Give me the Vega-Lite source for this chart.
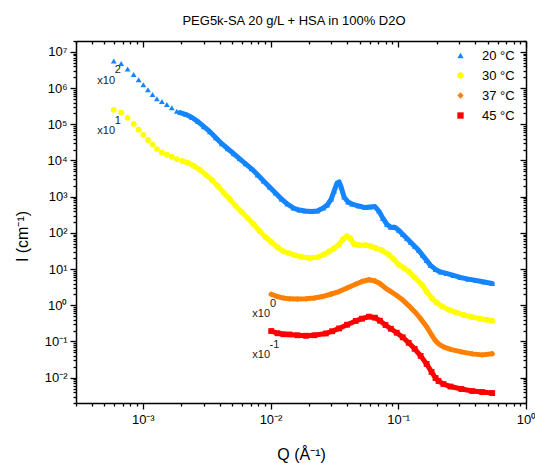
{
  "$schema": "https://vega.github.io/schema/vega-lite/v6.json",
  "width": 450,
  "height": 362,
  "autosize": {"type": "none"},
  "padding": {"left": 76, "top": 41, "right": 9, "bottom": 60},
  "title": {"text": "PEG5k-SA 20 g/L + HSA in 100% D2O", "fontSize": 13, "fontWeight": "normal", "font": "Liberation Sans", "color": "#000", "offset": -3, "baseline": "alphabetic", "dx": -7},
  "config": {
    "font": "Liberation Sans",
    "view": {"stroke": null},
    "axis": {"grid": false, "domainColor": "#000", "domainWidth": 1.5, "tickColor": "#000", "tickWidth": 1.3, "labelColor": "#000", "titleColor": "#000", "labelFont": "Liberation Sans", "titleFont": "Liberation Sans", "labelFontSize": 13, "titleFontSize": 16, "titleFontWeight": "normal", "labelOverlap": false, "labelFlush": false},
    "legend": {"labelFontSize": 13, "labelColor": "#000", "labelFont": "Liberation Sans", "symbolSize": 40, "symbolStrokeWidth": 0, "labelOffset": 15, "rowPadding": 6, "padding": 0}
  },
  "datasets": {
    "d": [
      {"T":"20 °C","Q":5.93e-4,"I":5.62e6},{"T":"20 °C","Q":6.77e-4,"I":4.76e6},{"T":"20 °C","Q":7.61e-4,"I":3.37e6},{"T":"20 °C","Q":8.48e-4,"I":2.36e6},{"T":"20 °C","Q":9.28e-4,"I":1.71e6},{"T":"20 °C","Q":1.01e-3,"I":1.243e6},{"T":"20 °C","Q":1.098e-3,"I":9.03e5},{"T":"20 °C","Q":1.192e-3,"I":6.68e5},{"T":"20 °C","Q":1.29e-3,"I":5.08e5},{"T":"20 °C","Q":1.411e-3,"I":4.27e5},{"T":"20 °C","Q":1.543e-3,"I":3.53e5},{"T":"20 °C","Q":1.687e-3,"I":2.86e5},{"T":"20 °C","Q":1.845e-3,"I":2.3e5},{"T":"20 °C","Q":1.958e-3,"I":2.11e5},{"T":"20 °C","Q":2.181e-3,"I":1.86e5},{"T":"20 °C","Q":2.428e-3,"I":1.54e5},{"T":"20 °C","Q":2.703e-3,"I":1.19e5},{"T":"20 °C","Q":3.01e-3,"I":8.63e4},{"T":"20 °C","Q":3.352e-3,"I":6.27e4},{"T":"20 °C","Q":3.733e-3,"I":4.27e4},{"T":"20 °C","Q":4.157e-3,"I":2.91e4},{"T":"20 °C","Q":4.628e-3,"I":2.11e4},{"T":"20 °C","Q":5.154e-3,"I":1.54e4},{"T":"20 °C","Q":5.738e-3,"I":1.115e4},{"T":"20 °C","Q":6.39e-3,"I":8100},{"T":"20 °C","Q":7.115e-3,"I":5880},{"T":"20 °C","Q":7.922e-3,"I":4010},{"T":"20 °C","Q":8.822e-3,"I":2730},{"T":"20 °C","Q":9.822e-3,"I":1860},{"T":"20 °C","Q":1.094e-2,"I":1267},{"T":"20 °C","Q":1.218e-2,"I":863},{"T":"20 °C","Q":1.356e-2,"I":627},{"T":"20 °C","Q":1.51e-2,"I":486},{"T":"20 °C","Q":1.682e-2,"I":427},{"T":"20 °C","Q":1.872e-2,"I":401},{"T":"20 °C","Q":2.085e-2,"I":388},{"T":"20 °C","Q":2.322e-2,"I":401},{"T":"20 °C","Q":2.585e-2,"I":486},{"T":"20 °C","Q":2.777e-2,"I":588},{"T":"20 °C","Q":2.984e-2,"I":863},{"T":"20 °C","Q":3.149e-2,"I":1440},{"T":"20 °C","Q":3.322e-2,"I":2403},{"T":"20 °C","Q":3.443e-2,"I":2560},{"T":"20 °C","Q":3.569e-2,"I":1860},{"T":"20 °C","Q":3.766e-2,"I":981},{"T":"20 °C","Q":4.046e-2,"I":712},{"T":"20 °C","Q":4.346e-2,"I":627},{"T":"20 °C","Q":4.927e-2,"I":552},{"T":"20 °C","Q":5.487e-2,"I":501},{"T":"20 °C","Q":6.0e-2,"I":518},{"T":"20 °C","Q":6.563e-2,"I":534},{"T":"20 °C","Q":7.05e-2,"I":401},{"T":"20 °C","Q":7.574e-2,"I":256},{"T":"20 °C","Q":8.136e-2,"I":174},{"T":"20 °C","Q":8.742e-2,"I":144},{"T":"20 °C","Q":9.393e-2,"I":144},{"T":"20 °C","Q":0.1009,"I":119},{"T":"20 °C","Q":0.1084,"I":92},{"T":"20 °C","Q":0.1165,"I":71.2},{"T":"20 °C","Q":0.1251,"I":55.2},{"T":"20 °C","Q":0.1344,"I":42.7},{"T":"20 °C","Q":0.1444,"I":33.1},{"T":"20 °C","Q":0.1551,"I":24},{"T":"20 °C","Q":0.1667,"I":17.4},{"T":"20 °C","Q":0.179,"I":12.7},{"T":"20 °C","Q":0.1958,"I":9.81},{"T":"20 °C","Q":0.2141,"I":8.36},{"T":"20 °C","Q":0.2384,"I":7.6},{"T":"20 °C","Q":0.2704,"I":6.68},{"T":"20 °C","Q":0.3065,"I":5.88},{"T":"20 °C","Q":0.3537,"I":5.28},{"T":"20 °C","Q":0.4082,"I":4.85},{"T":"20 °C","Q":0.4711,"I":4.41},{"T":"20 °C","Q":0.5437,"I":4.01},
      {"T":"30 °C","Q":5.93e-4,"I":2.51e5},{"T":"30 °C","Q":6.77e-4,"I":2.11e5},{"T":"30 °C","Q":7.61e-4,"I":1.506e5},{"T":"30 °C","Q":8.48e-4,"I":1.026e5},{"T":"30 °C","Q":9.28e-4,"I":7.12e4},{"T":"30 °C","Q":1.01e-3,"I":5.08e4},{"T":"30 °C","Q":1.098e-3,"I":3.69e4},{"T":"30 °C","Q":1.192e-3,"I":2.78e4},{"T":"30 °C","Q":1.29e-3,"I":2.07e4},{"T":"30 °C","Q":1.411e-3,"I":1.668e4},{"T":"30 °C","Q":1.543e-3,"I":1.44e4},{"T":"30 °C","Q":1.687e-3,"I":1.267e4},{"T":"30 °C","Q":1.845e-3,"I":1.094e4},{"T":"30 °C","Q":2.03e-3,"I":9810},{"T":"30 °C","Q":2.26e-3,"I":8630},{"T":"30 °C","Q":2.517e-3,"I":7120},{"T":"30 °C","Q":2.802e-3,"I":5520},{"T":"30 °C","Q":3.12e-3,"I":4010},{"T":"30 °C","Q":3.474e-3,"I":2910},{"T":"30 °C","Q":3.869e-3,"I":1980},{"T":"30 °C","Q":4.307e-3,"I":1267},{"T":"30 °C","Q":4.797e-3,"I":863},{"T":"30 °C","Q":5.341e-3,"I":552},{"T":"30 °C","Q":5.947e-3,"I":376},{"T":"30 °C","Q":6.622e-3,"I":256},{"T":"30 °C","Q":7.375e-3,"I":174},{"T":"30 °C","Q":8.212e-3,"I":111.5},{"T":"30 °C","Q":9.143e-3,"I":76},{"T":"30 °C","Q":1.018e-2,"I":55.2},{"T":"30 °C","Q":1.134e-2,"I":40.1},{"T":"30 °C","Q":1.262e-2,"I":31},{"T":"30 °C","Q":1.406e-2,"I":27.3},{"T":"30 °C","Q":1.565e-2,"I":24},{"T":"30 °C","Q":1.742e-2,"I":21.8},{"T":"30 °C","Q":2.012e-2,"I":20.2},{"T":"30 °C","Q":2.322e-2,"I":21.1},{"T":"30 °C","Q":2.632e-2,"I":25.6},{"T":"30 °C","Q":2.878e-2,"I":31},{"T":"30 °C","Q":3.149e-2,"I":37.6},{"T":"30 °C","Q":3.443e-2,"I":47.6},{"T":"30 °C","Q":3.699e-2,"I":66.8},{"T":"30 °C","Q":3.973e-2,"I":81},{"T":"30 °C","Q":4.193e-2,"I":71.2},{"T":"30 °C","Q":4.505e-2,"I":49.5},{"T":"30 °C","Q":4.927e-2,"I":45.5},{"T":"30 °C","Q":5.555e-2,"I":45.5},{"T":"30 °C","Q":6.109e-2,"I":42.7},{"T":"30 °C","Q":6.646e-2,"I":38.3},{"T":"30 °C","Q":7.44e-2,"I":33.1},{"T":"30 °C","Q":8.434e-2,"I":25.1},{"T":"30 °C","Q":9.226e-2,"I":18.6},{"T":"30 °C","Q":0.1009,"I":13.25},{"T":"30 °C","Q":0.1104,"I":10.8},{"T":"30 °C","Q":0.1207,"I":8.63},{"T":"30 °C","Q":0.1344,"I":5.88},{"T":"30 °C","Q":0.1532,"I":3.69},{"T":"30 °C","Q":0.1667,"I":2.4},{"T":"30 °C","Q":0.1832,"I":1.564},{"T":"30 °C","Q":0.1994,"I":1.189},{"T":"30 °C","Q":0.2219,"I":0.92},{"T":"30 °C","Q":0.2472,"I":0.76},{"T":"30 °C","Q":0.2853,"I":0.627},{"T":"30 °C","Q":0.3293,"I":0.534},{"T":"30 °C","Q":0.38,"I":0.47},{"T":"30 °C","Q":0.4385,"I":0.427},{"T":"30 °C","Q":0.4883,"I":0.401},{"T":"30 °C","Q":0.5437,"I":0.376},
      {"T":"37 °C","Q":1.0125e-2,"I":2.02},{"T":"37 °C","Q":1.134e-2,"I":1.745},{"T":"37 °C","Q":1.262e-2,"I":1.585},{"T":"37 °C","Q":1.406e-2,"I":1.506},{"T":"37 °C","Q":1.622e-2,"I":1.486},{"T":"37 °C","Q":1.896e-2,"I":1.506},{"T":"37 °C","Q":2.2e-2,"I":1.585},{"T":"37 °C","Q":2.553e-2,"I":1.745},{"T":"37 °C","Q":2.984e-2,"I":2.05},{"T":"37 °C","Q":3.443e-2,"I":2.4},{"T":"37 °C","Q":3.973e-2,"I":3.0},{"T":"37 °C","Q":4.644e-2,"I":3.83},{"T":"37 °C","Q":5.2e-2,"I":4.55},{"T":"37 °C","Q":5.893e-2,"I":5.08},{"T":"37 °C","Q":6.563e-2,"I":4.7},{"T":"37 °C","Q":7.178e-2,"I":4.01},{"T":"37 °C","Q":7.949e-2,"I":2.97},{"T":"37 °C","Q":8.742e-2,"I":2.4},{"T":"37 °C","Q":9.731e-2,"I":1.86},{"T":"37 °C","Q":0.1084,"I":1.394},{"T":"37 °C","Q":0.1207,"I":0.981},{"T":"37 °C","Q":0.1344,"I":0.668},{"T":"37 °C","Q":0.1497,"I":0.427},{"T":"37 °C","Q":0.1667,"I":0.256},{"T":"37 °C","Q":0.1823,"I":0.1535},{"T":"37 °C","Q":0.1958,"I":0.1046},{"T":"37 °C","Q":0.2066,"I":0.0863},{"T":"37 °C","Q":0.2259,"I":0.0712},{"T":"37 °C","Q":0.2563,"I":0.0607},{"T":"37 °C","Q":0.312,"I":0.0518},{"T":"37 °C","Q":0.38,"I":0.0455},{"T":"37 °C","Q":0.4545,"I":0.0427},{"T":"37 °C","Q":0.5437,"I":0.046},
      {"T":"45 °C","Q":1.0125e-2,"I":0.1945},{"T":"45 °C","Q":1.134e-2,"I":0.169},{"T":"45 °C","Q":1.262e-2,"I":0.1585},{"T":"45 °C","Q":1.406e-2,"I":0.1565},{"T":"45 °C","Q":1.622e-2,"I":0.1487},{"T":"45 °C","Q":1.896e-2,"I":0.144},{"T":"45 °C","Q":2.2e-2,"I":0.1487},{"T":"45 °C","Q":2.713e-2,"I":0.1668},{"T":"45 °C","Q":3.038e-2,"I":0.192},{"T":"45 °C","Q":3.443e-2,"I":0.2297},{"T":"45 °C","Q":3.973e-2,"I":0.291},{"T":"45 °C","Q":4.644e-2,"I":0.369},{"T":"45 °C","Q":5.2e-2,"I":0.427},{"T":"45 °C","Q":5.893e-2,"I":0.4856},{"T":"45 °C","Q":6.563e-2,"I":0.4553},{"T":"45 °C","Q":7.178e-2,"I":0.376},{"T":"45 °C","Q":7.949e-2,"I":0.2855},{"T":"45 °C","Q":8.742e-2,"I":0.2253},{"T":"45 °C","Q":9.731e-2,"I":0.1745},{"T":"45 °C","Q":0.1084,"I":0.1308},{"T":"45 °C","Q":0.1207,"I":0.092},{"T":"45 °C","Q":0.1344,"I":0.0627},{"T":"45 °C","Q":0.1497,"I":0.0401},{"T":"45 °C","Q":0.1667,"I":0.024},{"T":"45 °C","Q":0.1823,"I":0.0144},{"T":"45 °C","Q":0.1958,"I":0.0098},{"T":"45 °C","Q":0.2066,"I":0.0081},{"T":"45 °C","Q":0.2259,"I":0.00668},{"T":"45 °C","Q":0.2563,"I":0.0057},{"T":"45 °C","Q":0.312,"I":0.00486},{"T":"45 °C","Q":0.38,"I":0.00427},{"T":"45 °C","Q":0.4545,"I":0.00401},{"T":"45 °C","Q":0.5437,"I":0.00376}
    ],
    "a": [
      {"Q":4.41e-4,"I":1.565e6,"t":"x10","p":"b"},{"Q":6.03e-4,"I":3.1e6,"t":"2","p":"e"},
      {"Q":4.41e-4,"I":6.68e4,"t":"x10","p":"b"},{"Q":6.03e-4,"I":1.267e5,"t":"1","p":"e"},
      {"Q":7.2e-3,"I":0.562,"t":"x10","p":"b"},{"Q":9.9e-3,"I":1.094,"t":"0","p":"e"},
      {"Q":7.2e-3,"I":0.0435,"t":"x10","p":"b"},{"Q":9.82e-3,"I":0.0825,"t":"-1","p":"e"}
    ]
  },
  "layer": [
    {
      "data": {"name": "d"},
      "transform": [{"filter": "datum.Q > 0.0019"}],
      "mark": {"type": "line", "strokeWidth": 5, "strokeCap": "round", "strokeJoin": "round"},
      "encoding": {
        "x": {"field": "Q", "type": "quantitative", "scale": {"type": "log", "domain": [0.0003, 1]},
          "axis": {"orient": "bottom", "title": "Q (Å⁻¹)", "titleBaseline": "alphabetic", "titleY": 56, "labelPadding": 4,
            "values": [0.0003,0.0004,0.0005,0.0006,0.0007,0.0008,0.0009,0.001,0.002,0.003,0.004,0.005,0.006,0.007,0.008,0.009,0.01,0.02,0.03,0.04,0.05,0.06,0.07,0.08,0.09,0.1,0.2,0.3,0.4,0.5,0.6,0.7,0.8,0.9,1],
            "labelExpr": "abs(log(datum.value)/LN10 - round(log(datum.value)/LN10)) < 0.01 ? '10' + (round(log(datum.value)/LN10) < 0 ? '⁻' : '') + ['⁰','¹','²','³','⁴','⁵','⁶','⁷','⁸','⁹'][abs(round(log(datum.value)/LN10))] : ''",
            "tickSize": {"condition": {"test": "abs(log(datum.value)/LN10 - round(log(datum.value)/LN10)) < 0.01", "value": 6}, "value": 3}}},
        "y": {"field": "I", "type": "quantitative", "scale": {"type": "log", "domain": [0.002, 20000000]},
          "axis": {"orient": "left", "title": "I (cm⁻¹)", "titleAngle": -90, "titleX": -54, "titleY": 195, "titleAlign": "center", "titleBaseline": "middle", "labelPadding": 3,
            "values": [0.002,0.003,0.004,0.005,0.006,0.007,0.008,0.009,0.01,0.02,0.03,0.04,0.05,0.06,0.07,0.08,0.09,0.1,0.2,0.3,0.4,0.5,0.6,0.7,0.8,0.9,1,2,3,4,5,6,7,8,9,10,20,30,40,50,60,70,80,90,100,200,300,400,500,600,700,800,900,1000,2000,3000,4000,5000,6000,7000,8000,9000,10000,20000,30000,40000,50000,60000,70000,80000,90000,100000,200000,300000,400000,500000,600000,700000,800000,900000,1000000,2000000,3000000,4000000,5000000,6000000,7000000,8000000,9000000,10000000,20000000],
            "labelExpr": "abs(log(datum.value)/LN10 - round(log(datum.value)/LN10)) < 0.01 ? '10' + (round(log(datum.value)/LN10) < 0 ? '⁻' : '') + ['⁰','¹','²','³','⁴','⁵','⁶','⁷','⁸','⁹'][abs(round(log(datum.value)/LN10))] : ''",
            "tickSize": {"condition": {"test": "abs(log(datum.value)/LN10 - round(log(datum.value)/LN10)) < 0.01", "value": 6}, "value": 3}}},
        "stroke": {"field": "T", "type": "nominal", "scale": {"range": ["#1485FF","#FFFF00","#FF8000","#FF0000"]}, "legend": null}
      }
    },
    {
      "data": {"name": "d"},
      "mark": {"type": "point", "filled": true, "size": 34, "opacity": 1, "strokeWidth": 0},
      "encoding": {
        "x": {"field": "Q", "type": "quantitative", "scale": {"type": "log", "domain": [0.0003, 1]},
          "axis": {"orient": "top", "title": null, "labels": false,
            "values": [0.0003,0.0004,0.0005,0.0006,0.0007,0.0008,0.0009,0.001,0.002,0.003,0.004,0.005,0.006,0.007,0.008,0.009,0.01,0.02,0.03,0.04,0.05,0.06,0.07,0.08,0.09,0.1,0.2,0.3,0.4,0.5,0.6,0.7,0.8,0.9,1],
            "tickSize": {"condition": {"test": "abs(log(datum.value)/LN10 - round(log(datum.value)/LN10)) < 0.01", "value": -6}, "value": -3}}},
        "y": {"field": "I", "type": "quantitative", "scale": {"type": "log", "domain": [0.002, 20000000]},
          "axis": {"orient": "right", "title": null, "labels": false,
            "values": [0.002,0.003,0.004,0.005,0.006,0.007,0.008,0.009,0.01,0.02,0.03,0.04,0.05,0.06,0.07,0.08,0.09,0.1,0.2,0.3,0.4,0.5,0.6,0.7,0.8,0.9,1,2,3,4,5,6,7,8,9,10,20,30,40,50,60,70,80,90,100,200,300,400,500,600,700,800,900,1000,2000,3000,4000,5000,6000,7000,8000,9000,10000,20000,30000,40000,50000,60000,70000,80000,90000,100000,200000,300000,400000,500000,600000,700000,800000,900000,1000000,2000000,3000000,4000000,5000000,6000000,7000000,8000000,9000000,10000000,20000000],
            "tickSize": {"condition": {"test": "abs(log(datum.value)/LN10 - round(log(datum.value)/LN10)) < 0.01", "value": -6}, "value": -3}}},
        "color": {"field": "T", "type": "nominal", "scale": {"domain": ["20 °C","30 °C","37 °C","45 °C"], "range": ["#1485FF","#FFFF00","#FF8000","#FF0000"]}, "legend": {"title": null, "orient": "none", "legendX": 378, "legendY": 8}},
        "shape": {"field": "T", "type": "nominal", "scale": {"domain": ["20 °C","30 °C","37 °C","45 °C"], "range": ["triangle-up","circle","diamond","square"]}, "legend": {"title": null, "orient": "none", "legendX": 378, "legendY": 8}}
      }
    },
    {
      "data": {"name": "a"},
      "transform": [{"filter": "datum.p == 'b'"}],
      "mark": {"type": "text", "align": "left", "baseline": "middle", "fontSize": 11, "color": "#222", "font": "Liberation Sans"},
      "encoding": {
        "x": {"field": "Q", "type": "quantitative", "scale": {"type": "log", "domain": [0.0003, 1]}, "axis": null},
        "y": {"field": "I", "type": "quantitative", "scale": {"type": "log", "domain": [0.002, 20000000]}, "axis": null},
        "text": {"field": "t"}
      }
    },
    {
      "data": {"name": "a"},
      "transform": [{"filter": "datum.p == 'e'"}],
      "mark": {"type": "text", "align": "left", "baseline": "middle", "fontSize": 11, "color": "#222", "font": "Liberation Sans"},
      "encoding": {
        "x": {"field": "Q", "type": "quantitative", "scale": {"type": "log", "domain": [0.0003, 1]}, "axis": null},
        "y": {"field": "I", "type": "quantitative", "scale": {"type": "log", "domain": [0.002, 20000000]}, "axis": null},
        "text": {"field": "t"}
      }
    }
  ],
  "resolve": {"axis": {"x": "independent", "y": "independent"}}
}
